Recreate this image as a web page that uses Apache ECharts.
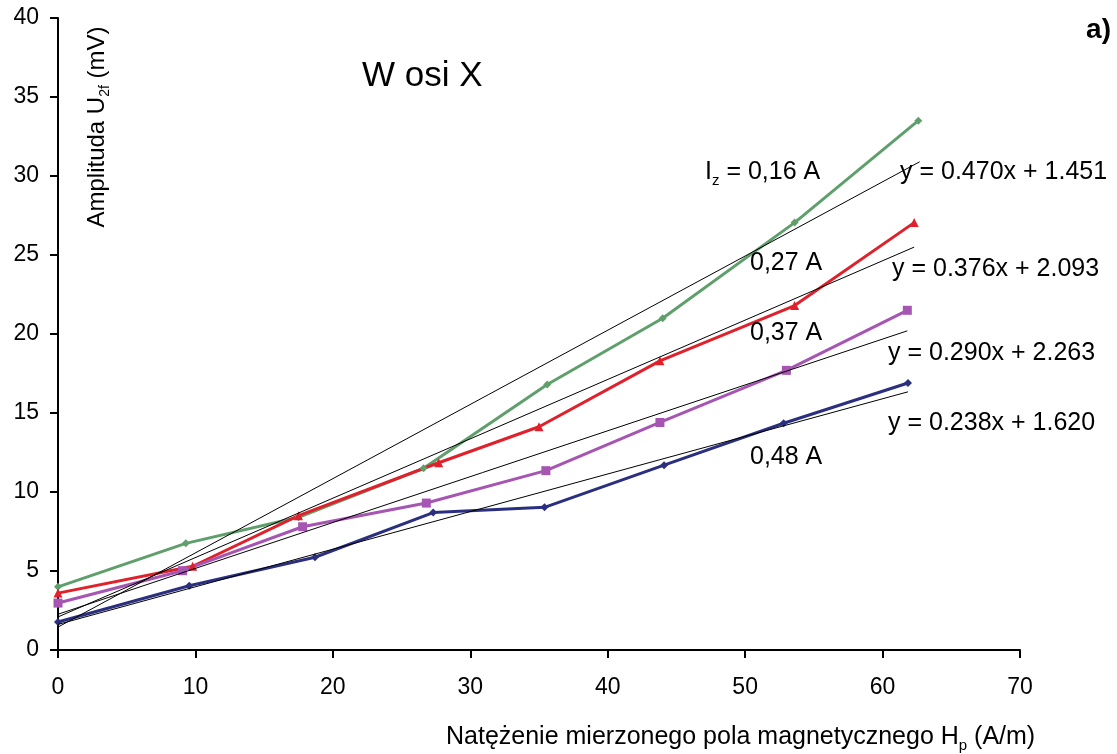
<!DOCTYPE html>
<html>
<head>
<meta charset="utf-8">
<title>W osi X</title>
<script src="https://cdn.jsdelivr.net/npm/echarts@6/dist/echarts.min.js"></script>
<style>
  html, body { margin: 0; padding: 0; background: #fff; }
  #chart { width: 1117px; height: 754px; }
</style>
</head>
<body>
<div id="chart"></div>
<script>
// natężenie pola H_p (A/m) i amplituda U_2f (mV)
var greenX = [0, 9.3, 17.5, 26.6, 35.6, 44.0, 53.6, 62.6];
var greenY = [4.0, 6.75, 8.4, 11.5, 16.8, 21.0, 27.05, 33.5];
var redX = [0, 9.8, 17.5, 27.7, 35.0, 43.8, 53.6, 62.3];
var redY = [3.6, 5.3, 8.5, 11.85, 14.13, 18.3, 21.8, 27.05];
var purpleX = [0, 9.06, 17.8, 26.8, 35.5, 43.8, 53.0, 61.8];
var purpleY = [2.97, 5.02, 7.8, 9.3, 11.35, 14.4, 17.7, 21.5];
var blueX = [0, 9.55, 18.7, 27.3, 35.4, 44.1, 52.8, 61.85];
var blueY = [1.77, 4.07, 5.87, 8.7, 9.03, 11.7, 14.35, 16.9];

// linie trendu (początek i koniec)
var trendGreen = [[0, 1.451], [62.7, 30.9]];
var trendRed = [[0, 2.093], [62.3, 25.5]];
var trendPurple = [[0, 2.263], [61.8, 20.2]];
var trendBlue = [[0, 1.62], [61.85, 16.34]];

var xTicks = [0, 10, 20, 30, 40, 50, 60, 70];
var yTicks = [0, 5, 10, 15, 20, 25, 30, 35, 40];

var font = 'Liberation Sans, Arial, sans-serif';

function pairs(xs, ys) {
  return xs.map(function (x, i) { return [x, ys[i]]; });
}

function dataSeries(name, xs, ys, color, symbol, size) {
  return {
    name: name,
    type: 'line',
    data: pairs(xs, ys),
    color: color,
    symbol: symbol,
    symbolSize: size,
    lineStyle: { width: 3, color: color },
    itemStyle: { color: color },
    z: 2,
    animation: false
  };
}

function trendSeries(pts) {
  return {
    type: 'line',
    data: pts,
    symbol: 'none',
    lineStyle: { width: 1, color: '#000' },
    z: 3,
    animation: false
  };
}

function txt(x, y, text, size, opts) {
  var style = {
    x: x, y: y, text: text,
    fill: '#000',
    font: (opts && opts.bold ? 'bold ' : '') + size + 'px ' + font,
    textAlign: (opts && opts.align) || 'left',
    textVerticalAlign: 'middle',
    rich: {
      sub: { fontSize: Math.round(size * 0.6), fontFamily: font, verticalAlign: 'bottom', lineHeight: Math.round(size * 0.6) },
      m: { fontSize: size, fontFamily: font, lineHeight: Math.round(size * 1.3) }
    }
  };
  var el = { type: 'text', style: style, z: 10 };
  if (opts && opts.rotation) { el.rotation = opts.rotation; el.x = x; el.y = y; style.x = 0; style.y = 0; }
  return el;
}

var myChart = echarts.init(document.getElementById('chart'));
var option = {
  backgroundColor: '#fff',
  animation: false,
  grid: { left: 58, right: 97, top: 18, bottom: 104 },
  xAxis: {
    type: 'value',
    min: xTicks[0],
    max: xTicks[xTicks.length - 1],
    interval: 10,
    axisLine: { show: true, onZero: false, lineStyle: { color: '#000', width: 2 } },
    axisTick: { show: true, inside: false, length: 8, lineStyle: { color: '#000', width: 2 } },
    axisLabel: { color: '#000', fontSize: 23, fontFamily: font, margin: 26 },
    splitLine: { show: false }
  },
  yAxis: {
    type: 'value',
    min: yTicks[0],
    max: yTicks[yTicks.length - 1],
    interval: 5,
    axisLine: { show: true, onZero: false, lineStyle: { color: '#000', width: 2 } },
    axisTick: { show: true, inside: false, length: 8, lineStyle: { color: '#000', width: 2 } },
    axisLabel: { color: '#000', fontSize: 23, fontFamily: font, margin: 19 },
    splitLine: { show: false }
  },
  series: [
    dataSeries('0,16 A', greenX, greenY, '#5f9f6c', 'diamond', 8),
    dataSeries('0,27 A', redX, redY, '#e0212b', 'triangle', 9),
    dataSeries('0,37 A', purpleX, purpleY, '#a655b2', 'rect', 9),
    dataSeries('0,48 A', blueX, blueY, '#2b2f7f', 'diamond', 8),
    trendSeries(trendGreen),
    trendSeries(trendRed),
    trendSeries(trendPurple),
    trendSeries(trendBlue)
  ],
  graphic: [
    txt(362, 76, 'W osi X', 35),
    txt(1111, 30, 'a)', 28, { bold: true, align: 'right' }),
    txt(705, 172, '{m|I}{sub|z}{m| = 0,16 A}', 25),
    txt(900, 172, 'y = 0.470x + 1.451', 25),
    txt(750, 263, '0,27 A', 25),
    txt(892, 269, 'y = 0.376x + 2.093', 25),
    txt(750, 333, '0,37 A', 25),
    txt(888, 353, 'y = 0.290x + 2.263', 25),
    txt(888, 423, 'y = 0.238x + 1.620', 25),
    txt(750, 457, '0,48 A', 25),
    txt(97, 127, '{m|Amplituda U}{sub|2f}{m| (mV)}', 24, { rotation: Math.PI / 2, align: 'center' }),
    txt(446, 737, '{m|Natężenie mierzonego pola magnetycznego H}{sub|p}{m| (A/m)}', 25)
  ]
};
myChart.setOption(option);
</script>
</body>
</html>
